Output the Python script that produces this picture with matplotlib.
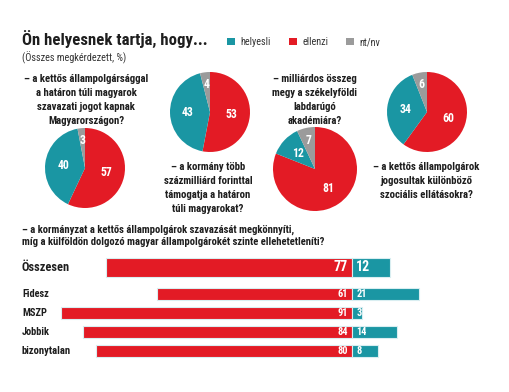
import numpy as np
import matplotlib
matplotlib.use('Agg')
import matplotlib.pyplot as plt
from matplotlib.transforms import blended_transform_factory

# Adatok
legend_labels = ['helyesli', 'ellenzi', 'nt/nv']
pie_questions = [
    '– a kormány több\nszázmilliárd forinttal\ntámogatja a határon\ntúli magyarokat?',
    '– a kettős állampolgársággal\na határon túli magyarok\nszavazati jogot kapnak\nMagyarországon?',
    '– milliárdos összeg\nmegy a székelyföldi\nlabdarúgó\nakadémiára?',
    '– a kettős állampolgárok\njogosultak különböző\nszociális ellátásokra?',
]
pie_helyesli = [43, 40, 12, 34]
pie_ellenzi = [53, 57, 81, 60]
pie_ntnv = [4, 3, 7, 6]

bar_question = ('– a kormányzat a kettős állampolgárok szavazását megkönnyíti,\n'
                'míg a külföldön dolgozó magyar állampolgárokét szinte ellehetetleníti?')
bar_groups = ['Összesen', 'Fidesz', 'MSZP', 'Jobbik', 'bizonytalan']
bar_ellenzi = [77, 61, 91, 84, 80]
bar_helyesli = [12, 21, 3, 14, 8]

TEAL = '#1a96a3'
RED = '#e31b25'
GRAY = '#9b9b9b'
DARK = '#1e1e1e'
W, H = 510, 392

plt.rcParams['font.family'] = ['Roboto Condensed', 'DejaVu Sans']
plt.rcParams['font.stretch'] = 'condensed'

fig = plt.figure(figsize=(W / 100, H / 100), dpi=100)
fig.patch.set_facecolor('white')
renderer = fig.canvas.get_renderer()


def px(x, y):
    return x / W, 1 - y / H


def fit(t, width_px):
    # szövegméret igazítása a megadott pixelszélességhez
    w = t.get_window_extent(renderer).width
    t.set_fontsize(t.get_fontsize() * width_px / w)
    return t.get_fontsize()


# Cím
title = fig.text(*px(22, 39), 'Ön helyesnek tartja, hogy...', fontsize=12.5, fontweight='bold',
                 color=DARK, va='center', ha='left')
fit(title, 185)
sub = fig.text(*px(22, 58), '(Összes megkérdezett, %)', fontsize=7.3, color='#333333',
               va='center', ha='left')
fit(sub, 105)

# Kördiagramok
pie_layout = [(210, 112, 40), (85, 168, 40), (315, 169, 42), (427, 112, 40)]
q_layout = [(208, 162), (86, 74), (315, 74), (426, 162)]
probe = fig.text(0, 0, pie_questions[1], fontsize=7.5, fontweight='bold')
q_size = fit(probe, 124)
probe.remove()

wedges0 = None
for i in range(4):
    cx, cy, r = pie_layout[i]
    ax = fig.add_axes([(cx - r) / W, 1 - (cy + r) / H, 2 * r / W, 2 * r / H])
    vals = [pie_ellenzi[i], pie_helyesli[i], pie_ntnv[i]]
    wedges, _, autotexts = ax.pie(vals, colors=[RED, TEAL, GRAY], startangle=90,
                                  counterclock=False, autopct='%.0f', pctdistance=0.55,
                                  textprops=dict(color='white', fontweight='bold', fontsize=8.5),
                                  wedgeprops=dict(linewidth=0))
    autotexts[2].set_position(np.array(autotexts[2].get_position()) / 0.55 * 0.7)
    ax.set_xlim(-1, 1)
    ax.set_ylim(-1, 1)
    ax.set_aspect('equal')
    if wedges0 is None:
        wedges0 = wedges
    qx, qy = q_layout[i]
    fig.text(*px(qx, qy), pie_questions[i], fontsize=q_size, fontweight='bold', color=DARK,
             ha='center', va='top', linespacing=1.5)

# Jelmagyarázat
fig.legend([wedges0[1], wedges0[0], wedges0[2]], legend_labels, ncol=3, frameon=False,
           loc='center left', bbox_to_anchor=px(218, 42), fontsize=7.3,
           handlelength=0.8, handleheight=0.8, handletextpad=0.5, columnspacing=1.8,
           labelcolor='#333333')

# Oszlopdiagram
bq = fig.text(*px(22, 236), bar_question, fontsize=7.7, fontweight='bold', color=DARK,
              ha='left', va='center', linespacing=1.2)
fit(bq, 302)

row_y = np.array([0, 1.42, 2.42, 3.42, 4.42])
heights = [1.0, 0.63, 0.63, 0.63, 0.63]
bx = fig.add_axes([32 / W, 1 - 362 / H, 416 / W, 112 / H])
bx.barh(row_y, -np.array(bar_ellenzi), height=heights, color=RED,
        edgecolor='#d9eef1', linewidth=0.8)
bx.barh(row_y, bar_helyesli, height=heights, color=TEAL,
        edgecolor='#d9eef1', linewidth=0.8)
bx.set_xlim(-100, 30)
bx.set_ylim(5.0, -0.895)
bx.axis('off')

trans = blended_transform_factory(fig.transFigure, bx.transData)
for i in range(len(bar_groups)):
    big = i == 0
    fs = 9 if big else 7.5
    vs = 10 if big else 7.5
    lab = bx.text(22 / W, row_y[i], bar_groups[i], transform=trans, fontsize=fs,
                  fontweight='bold', color=DARK, ha='left', va='center')
    if big:
        fit(lab, 48)
    elif bar_groups[i] == 'bizonytalan':
        fit(lab, 49)
    bx.annotate(str(bar_ellenzi[i]), (0, row_y[i]), xytext=(-3, 0), textcoords='offset points',
                ha='right', va='center', color='white', fontweight='bold', fontsize=vs)
    bx.annotate(str(bar_helyesli[i]), (0, row_y[i]), xytext=(3, 0), textcoords='offset points',
                ha='left', va='center', color='white', fontweight='bold', fontsize=vs)

fig.savefig('out.png', dpi=100)
